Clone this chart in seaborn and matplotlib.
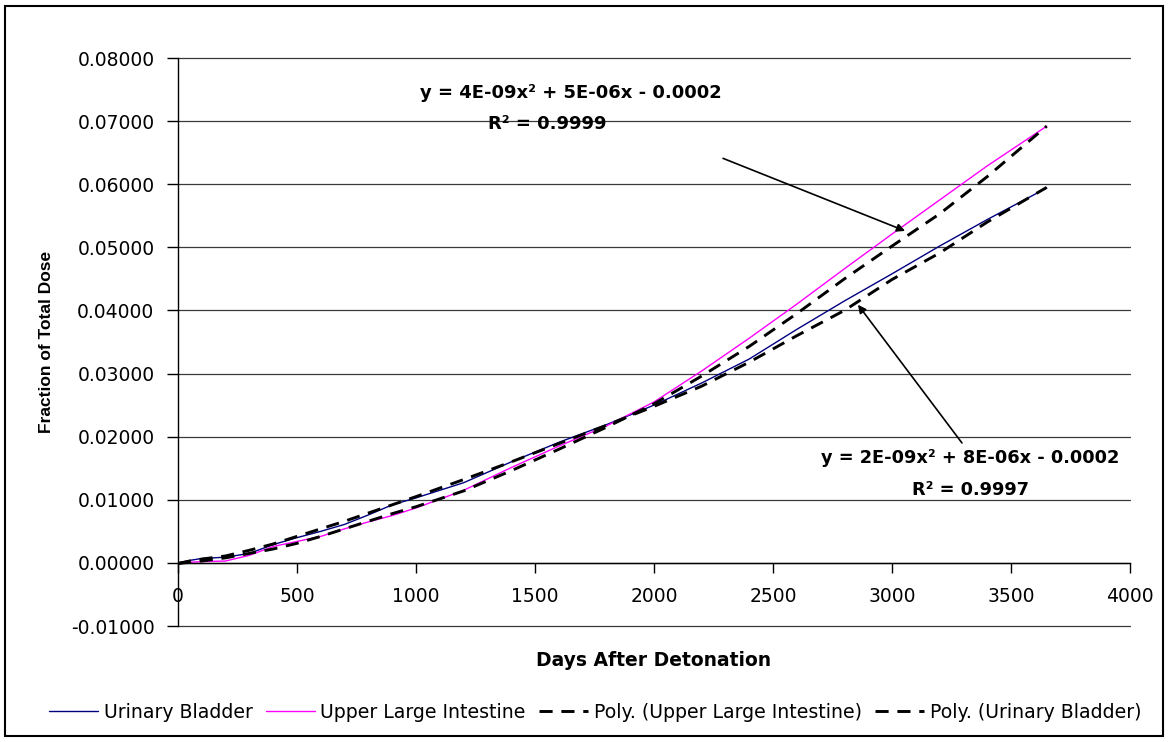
import numpy as np
import pandas as pd
import matplotlib
matplotlib.use("Agg")
import matplotlib.pyplot as plt
import matplotlib.patches as mpatches
from matplotlib.ticker import FormatStrFormatter
import seaborn as sns

# ---------------- data ----------------
days = [0, 50, 100, 200, 300, 400, 500, 600, 700, 800, 900, 1000, 1200, 1400,
        1600, 1800, 2000, 2200, 2400, 2600, 2800, 3000, 3200, 3400, 3650]

urinary_bladder = [0, 0.0004, 0.0007, 0.0009, 0.0015, 0.0029, 0.0040, 0.0050,
                   0.0061, 0.0076, 0.0092, 0.0103, 0.0127, 0.0160, 0.0191, 0.0219,
                   0.0250, 0.0285, 0.0323, 0.0370, 0.0415, 0.0458, 0.0502, 0.0544,
                   0.0594]

upper_large_intestine = [0, 0.0001, 0.0002, 0.0003, 0.0012, 0.0026, 0.0034, 0.0042,
                         0.0054, 0.0065, 0.0075, 0.0087, 0.0115, 0.0151, 0.0185,
                         0.0217, 0.0255, 0.0304, 0.0356, 0.0410, 0.0466, 0.0521,
                         0.0575, 0.0629, 0.0692]

poly_upper_large_intestine = [-0.0001, 0.0001, 0.0003, 0.0008, 0.0015, 0.0022, 0.0031,
                              0.0042, 0.0054, 0.0066, 0.0078, 0.0089, 0.0114, 0.0146,
                              0.0180, 0.0215, 0.0252, 0.0296, 0.0343, 0.0395, 0.0450,
                              0.0502, 0.0553, 0.0612, 0.0692]

poly_urinary_bladder = [-0.0001, 0.0003, 0.0006, 0.0011, 0.0020, 0.0030, 0.0042,
                        0.0054, 0.0066, 0.0079, 0.0092, 0.0105, 0.0132, 0.0160,
                        0.0189, 0.0218, 0.0248, 0.0280, 0.0318, 0.0360, 0.0400,
                        0.0449, 0.0491, 0.0540, 0.0595]

series_labels = ["Urinary Bladder", "Upper Large Intestine",
                 "Poly. (Upper Large Intestine)", "Poly. (Urinary Bladder)"]
x_ticks = [0, 500, 1000, 1500, 2000, 2500, 3000, 3500, 4000]
y_ticks = [-0.01, 0.0, 0.01, 0.02, 0.03, 0.04, 0.05, 0.06, 0.07, 0.08]

eq_uli = ["y = 4E-09x² + 5E-06x - 0.0002", "R² = 0.9999"]
eq_ub = ["y = 2E-09x² + 8E-06x - 0.0002", "R² = 0.9997"]

x_title = "Days After Detonation"
y_title = "Fraction of Total Dose"

# ---------------- style ----------------
sns.set_style("white")
plt.rcParams["font.family"] = ["DejaVu Sans"]
plt.rcParams["axes.unicode_minus"] = False
plt.rcParams["text.color"] = "black"
plt.rcParams["axes.labelcolor"] = "black"
plt.rcParams["xtick.color"] = "black"
plt.rcParams["ytick.color"] = "black"

W, H = 1169, 742
fig = plt.figure(figsize=(W / 100, H / 100), dpi=100)
ax = fig.add_axes([178 / W, 1 - 626 / H, 952 / W, 568 / H])

df = pd.DataFrame({
    "days": days,
    "ub": urinary_bladder,
    "uli": upper_large_intestine,
    "p_uli": poly_upper_large_intestine,
    "p_ub": poly_urinary_bladder,
})

sns.lineplot(data=df, x="days", y="ub", ax=ax, color="#000080", lw=1.0,
             sort=False, label=series_labels[0], legend=False)
sns.lineplot(data=df, x="days", y="uli", ax=ax, color="#FF00FF", lw=1.0,
             sort=False, label=series_labels[1], legend=False)
sns.lineplot(data=df, x="days", y="p_uli", ax=ax, color="black", lw=2.1,
             sort=False, label=series_labels[2], legend=False)
sns.lineplot(data=df, x="days", y="p_ub", ax=ax, color="black", lw=2.1,
             sort=False, label=series_labels[3], legend=False)
for ln in ax.lines[2:4]:
    ln.set_dashes([4.5, 3])

ax.set_xlim(0, 4000)
ax.set_ylim(-0.01, 0.08)
ax.set_xticks(x_ticks)
ax.set_yticks(y_ticks)
ax.yaxis.set_major_formatter(FormatStrFormatter("%.5f"))
ax.yaxis.grid(True, color="#3a3a3a", lw=0.9)
ax.xaxis.grid(False)
ax.set_axisbelow(True)
for gl in ax.get_ygridlines():
    gl.set_clip_on(False)

for s in ["top", "right"]:
    ax.spines[s].set_visible(False)
ax.spines["bottom"].set_position(("data", 0))
ax.spines["left"].set_color("black")
ax.spines["bottom"].set_color("black")
ax.spines["left"].set_linewidth(1.0)
ax.spines["bottom"].set_linewidth(1.0)

ax.tick_params(axis="y", direction="out", length=8, width=1, pad=9,
               labelsize=13.5, colors="black", left=True)
ax.tick_params(axis="x", direction="out", length=7, width=1, pad=10,
               labelsize=13.5, colors="black", bottom=True)

ax.set_xlabel(x_title, fontsize=13.5, fontweight="bold")
ax.xaxis.label.set_va("center")
ax.xaxis.set_label_coords(0.5, -(661 - 626) / 568)
ax.set_ylabel(y_title, fontsize=12.5, fontweight="bold",
              family=["Liberation Sans", "DejaVu Sans"])
ax.yaxis.label.set_va("center")
ax.yaxis.set_label_coords((47 - 178) / 952, 0.5)

# trendline equations
ax.text(1650, 0.0745, eq_uli[0], ha="center", va="center", fontsize=13,
        fontweight="bold")
ax.text(1550, 0.0696, eq_uli[1], ha="center", va="center", fontsize=13,
        fontweight="bold")
ax.annotate("", xy=(3055, 0.0526), xytext=(2290, 0.0641),
            arrowprops=dict(arrowstyle="-|>", color="black", lw=1.2,
                            mutation_scale=12, shrinkA=0, shrinkB=0))
ax.text(3330, 0.0166, eq_ub[0], ha="center", va="center", fontsize=12.8,
        fontweight="bold")
ax.text(3330, 0.0115, eq_ub[1], ha="center", va="center", fontsize=12.8,
        fontweight="bold")
ax.annotate("", xy=(2857, 0.0409), xytext=(3294, 0.0190),
            arrowprops=dict(arrowstyle="-|>", color="black", lw=1.2,
                            mutation_scale=12, shrinkA=0, shrinkB=0))

handles = ax.lines[:4]
fig.legend(handles, series_labels, loc="center", bbox_to_anchor=(595 / W, 1 - 712 / H),
           ncol=4, frameon=False, fontsize=13.6, handlelength=2.6,
           handletextpad=0.3, columnspacing=0.7)

fig.patches.append(mpatches.Rectangle((5 / W, 6 / H), 1158 / W, 730 / H,
                                      transform=fig.transFigure, fill=False,
                                      ec="black", lw=1.5))

fig.savefig("out.png", dpi=100)
